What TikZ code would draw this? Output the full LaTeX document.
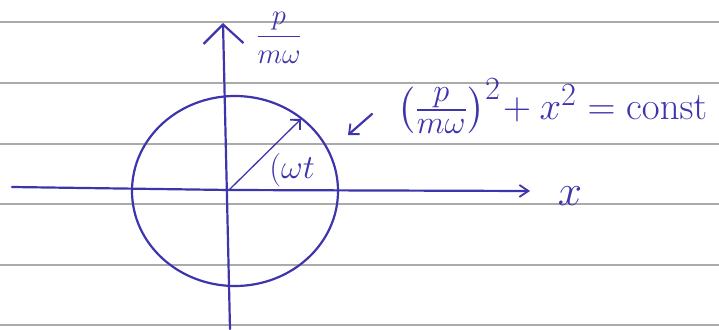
\documentclass[tikz,border=0pt]{standalone}
\usetikzlibrary{arrows.meta,shapes.geometric}
\usepackage{amsmath}
\definecolor{ink}{RGB}{62,52,172}
\definecolor{rule}{RGB}{170,170,170}
\tikzset{
  ink/.style={draw=ink, line width=2.2pt, line cap=round, line join=round},
  ruled/.style={draw=rule, line width=1.2pt},
  lbl/.style={text=ink, inner sep=0pt, font=\Huge},
}
\begin{document}
\begin{tikzpicture}[x=1pt,y=-1pt]
\useasboundingbox[fill=white] (0,0) rectangle (719,329);
% ruled paper lines
\foreach \yy in {22,83,144,204,265,325}
  \draw[ruled] (0,\yy) -- (719,\yy);
% axes
\coordinate (O) at (229,190);
\coordinate (vb) at (230,329);
\coordinate (vt) at (223,23);
\coordinate (hl) at (12,187);
\coordinate (hr) at (530,191);
\draw[ink, -{Straight Barb[length=19pt,width=40pt,line width=2.2pt]}] (vb) -- (vt);
\draw[ink, -{Straight Barb[length=9pt,width=12pt,line width=1.8pt]}] (hl) -- (O) -- (hr);
% circle
\node[ink, ellipse, minimum width=206pt, minimum height=190pt, inner sep=0pt] (circ) at (235,191) {};
% radius vector
\coordinate (P) at (301,119);
\draw[ink, line width=1.3pt, -{Straight Barb[length=7pt,width=14pt,line width=1.8pt]}] (O) -- (P);
% labels
\node[lbl, scale=1.15] (pm) at (279,38) {$\dfrac{p}{m\omega}$};
\node[lbl, scale=1.35] (wt) at (292,170) {$(\omega t$};
\node[lbl, scale=1.75] (xl) at (570,196) {$x$};
\node[lbl, scale=1.56, anchor=west] (eq) at (397,106) {$\big(\frac{p}{m\omega}\big)^{2}\!+x^{2}=\mathrm{const}$};
\coordinate (ea) at (372,114);
\coordinate (eb) at (348,135);
\draw[ink, -{Straight Barb[length=8pt,width=14pt,line width=1.8pt]}] (ea) -- (eb);
\end{tikzpicture}
\end{document}
